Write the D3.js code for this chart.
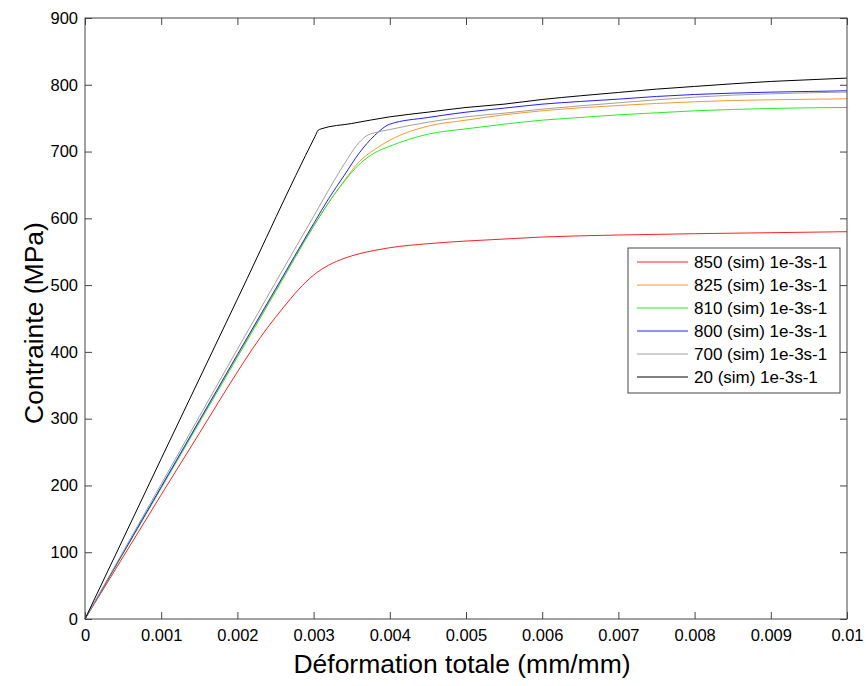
<!DOCTYPE html>
<html><head><meta charset="utf-8">
<script src="https://cdn.jsdelivr.net/npm/d3@7"></script>
<style>body{margin:0;background:#fff}svg{display:block}text{font-family:"Liberation Sans",Arial,sans-serif}</style>
</head><body><svg id="c" width="866" height="686"></svg>
<script>
// ---- data ----
const seriesNames = ["850 (sim) 1e-3s-1","825 (sim) 1e-3s-1","810 (sim) 1e-3s-1","800 (sim) 1e-3s-1","700 (sim) 1e-3s-1","20 (sim) 1e-3s-1"];
const seriesColors = ["#ff2020","#f39a30","#22ee22","#2020ff","#a0a0a0","#000000"];
const strainA = [0,0.001,0.002,0.0025,0.003,0.0032,0.0034,0.0036,0.0038,0.004,0.0045,0.005,0.0055,0.006,0.0065,0.007,0.0075,0.008,0.0085,0.009,0.0095,0.01];
const strainRed = [0,0.0005,0.001,0.0015,0.002,0.0022,0.0024,0.0026,0.0028,0.003,0.0032,0.0034,0.0036,0.0038,0.004,0.0045,0.005,0.0055,0.006,0.007,0.008,0.009,0.01];
const stress850 = [0,93,186,278,370,405,437,466,493,515,530,540,547,552,556,562,566,569,572,575,577,578.5,580];
const stress825 = [0,197,394,492,589,624,656,685,703,717,738,747,755,761,765.5,769,772,774.5,776.5,777.5,778.3,779];
const stress810 = [0,196,392,490,588,624,655,681,698,708,726,734,741,747,751,755,758,761,763,764.5,765.5,766];
const stress800 = [0,198,396,494,592,630,664,698,724,741,751,759,765,771,775,778.5,782.5,785.5,787.5,789,790,791];
const strainGray = [0,0.001,0.002,0.0025,0.003,0.0032,0.0034,0.0036,0.0037,0.0038,0.004,0.0045,0.005,0.0055,0.006,0.0065,0.007,0.0075,0.008,0.0085,0.009,0.0095,0.01];
const stress700 = [0,202,404,504,603,643,681,714,724,728,733,744,752,757.5,763.5,768.5,773,777.5,781.5,784.5,786.5,788,789];
const strainBlack = [0,0.001,0.002,0.00302,0.00306,0.0031,0.0035,0.004,0.0045,0.005,0.0055,0.006,0.0065,0.007,0.0075,0.008,0.0085,0.009,0.0095,0.01];
const stress20 = [0,240,479,723,732,734,742,752,759,766,771,778,783.5,788.5,793.5,797.5,801.5,805,807.5,810];
const xTicks = [0,0.001,0.002,0.003,0.004,0.005,0.006,0.007,0.008,0.009,0.01];
const xTickLabels = ["0","0.001","0.002","0.003","0.004","0.005","0.006","0.007","0.008","0.009","0.01"];
const yTicks = [0,100,200,300,400,500,600,700,800,900];
const xTitle = "Déformation totale (mm/mm)";
const yTitle = "Contrainte (MPa)";

const seriesX = [strainRed, strainA, strainA, strainA, strainGray, strainBlack];
const seriesY = [stress850, stress825, stress810, stress800, stress700, stress20];

// ---- layout ----
const L=85, R=847, T=18, B=619;
const svg = d3.select("#c");
const x = d3.scaleLinear().domain([0,0.01]).range([L,R]);
const y = d3.scaleLinear().domain([0,900]).range([B,T]);
const axisColor="#444";

// lines
const line = d3.line().x(d=>x(d[0])).y(d=>y(d[1])).curve(d3.curveMonotoneX);
seriesY.forEach((ys,i)=>{
  const pts = ys.map((v,j)=>[seriesX[i][j],v]);
  svg.append("path").attr("d",line(pts)).attr("fill","none")
    .attr("stroke",seriesColors[i]).attr("stroke-width",1);
});
// axes
const fmt = d=>xTickLabels[xTicks.indexOf(d)];
const gx = svg.append("g").attr("transform",`translate(0,${B})`)
  .call(d3.axisBottom(x).tickValues(xTicks).tickSize(-7).tickPadding(10).tickFormat(fmt));
const gxt = svg.append("g").attr("transform",`translate(0,${T})`)
  .call(d3.axisTop(x).tickValues(xTicks).tickSize(-7).tickFormat(""));
const gy = svg.append("g").attr("transform",`translate(${L},0)`)
  .call(d3.axisLeft(y).tickValues(yTicks).tickSize(-7).tickPadding(7));
const gyr = svg.append("g").attr("transform",`translate(${R},0)`)
  .call(d3.axisRight(y).tickValues(yTicks).tickSize(-7).tickFormat(""));
[gx,gxt,gy,gyr].forEach(g=>{
  g.select(".domain").remove();
  g.selectAll("line").attr("stroke",axisColor);
  g.selectAll("text").attr("font-size",16.5).attr("fill","#000")
   .attr("font-family",'"Liberation Sans",Arial,sans-serif');
});
svg.append("rect").attr("x",L).attr("y",T).attr("width",R-L).attr("height",B-T)
  .attr("fill","none").attr("stroke",axisColor).attr("stroke-width",1);

// titles
svg.append("text").attr("x",462).attr("y",673).attr("text-anchor","middle")
  .attr("font-size",26.5).text(xTitle);
svg.append("text").attr("transform","translate(43,323) rotate(-90)").attr("text-anchor","middle")
  .attr("font-size",26.5).text(yTitle);

// legend
const lg = svg.append("g");
lg.append("rect").attr("x",628).attr("y",248).attr("width",212).attr("height",145)
  .attr("fill","#fff").attr("stroke",axisColor).attr("stroke-width",1);
seriesNames.forEach((n,i)=>{
  const yy = 262 + i*23;
  lg.append("line").attr("x1",637).attr("x2",688).attr("y1",yy).attr("y2",yy)
    .attr("stroke",seriesColors[i]).attr("stroke-width",1);
  lg.append("text").attr("x",694).attr("y",yy+6).attr("font-size",17).text(n);
});
</script></body></html>
